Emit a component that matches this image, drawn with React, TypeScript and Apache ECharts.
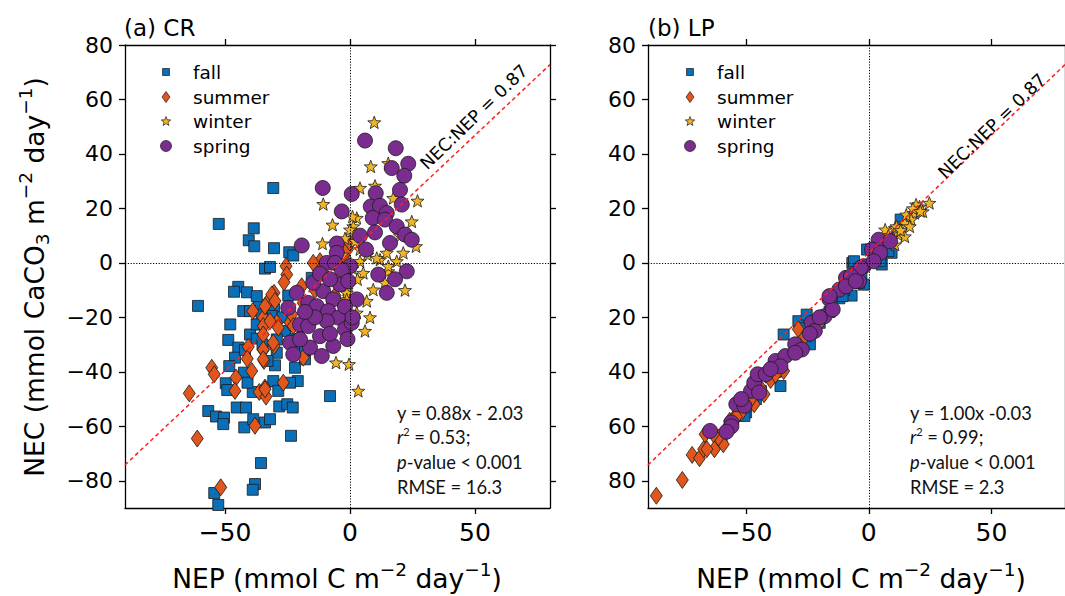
import React, { useEffect, useRef } from "react";
import * as echarts from "echarts";

// ---------------- data ----------------
const seasons = ["fall", "summer", "winter", "spring"];
const panelTitles = ["(a) CR", "(b) LP"];
const xTicks = [-50, 0, 50];
const yTicks = [-80, -60, -40, -20, 0, 20, 40, 60, 80];
const axisMin = -90;
const axisMax = 80;
const ratioLabel = "NEC:NEP = 0.87";
const refLine = [[-90, -74.2], [80, 72.8]];
const fitEquations = ["y = 0.88x - 2.03", "y = 1.00x -0.03"];
const rSquared = ["0.53", "0.99"];
const pValues = ["0.001", "0.001"];
const rmseValues = ["16.3", "2.3"];

const crFall = [
  [-30.7, 27.5], [-52.5, 14.3], [-38.5, 12.7], [-40.5, 8.3], [-38.3, 6.1], [-30.4, 5.4], [-24.3, 3.9], [-22.7, 2.7],
  [-34, -2.1], [-32, -1.5], [-44.7, -8.8], [-46.4, -10.6], [-41.2, -10.8], [-60.8, -15.8], [-42.7, -17.7], [-36.4, -15.6],
  [-30.4, -17.1], [-24.7, -12], [-47.9, -22.6], [-36, -22.6], [-31.3, -19.5], [-48.7, -28.3], [-44.7, -31.1], [-40, -26.3],
  [-37.3, -27.8], [-46, -34.8], [-48.3, -37.9], [-42.4, -40.3], [-49.7, -44.2], [-49.1, -46.7], [-30, -37.6], [-22, -38.5],
  [-20.9, -43.4], [-29.3, -33], [-38.9, -47.4], [-30.7, -43.4], [-28.7, -47], [-56.7, -54.4], [-53.6, -56.4], [-50.4, -56.8],
  [-50.7, -59.2], [-45.3, -53.1], [-41.6, -53.1], [-42.3, -60.4], [-38.7, -57.4], [-34, -58.6], [-32, -57.4], [-28.3, -52.7],
  [-25.1, -51.9], [-22.9, -53.1], [-23.6, -63.5], [-35.6, -73.5], [-38, -81.2], [-38.9, -83.3], [-54.3, -84.5], [-52.7, -88.9],
  [-37.3, -12.2], [-35.3, -19], [-8, -48.9], [-18, -35.4], [-26, -25], [-22, -28], [-20, -30], [-18, -32], [-27, -20],
  [-42, -32], [-35, -30], [-33, -36], [-24, -44], [-41, -44], [-15.3, -5.5], [-40, -17.7], [-37.3, -22.6], [-29.3, -28.1],
];
const crSummer = [
  [-25.6, -1.2], [-25.3, -4.3], [-26.4, -7.1], [-30.4, -11], [-32.4, -13.7], [-38.9, -17.7], [-34.7, -20.1], [-29.3, -22],
  [-34.7, -23.2], [-28.7, -23.8], [-40.7, -30.8], [-41.1, -35.2], [-34.7, -32], [-34.4, -36], [-30.4, -30.5], [-39.3, -39.7],
  [-45.6, -42.1], [-46, -47], [-55.3, -38.5], [-54.3, -40.9], [-64.3, -47.9], [-61.1, -64.5], [-51.7, -82.4], [-36.3, -47.4],
  [-34, -45.8], [-33.6, -49.1], [-26.7, -44], [-38, -59.8], [-24, -21.9], [-18.7, -34.8], [-12, 0.6], [-31.3, -11.6],
  [-30, -14], [-34, -15.9], [-32, -21.4], [-34.7, -26.3], [-30.7, -29.3], [-34.7, -31.8], [-34.7, -35.4], [-34, -46.4],
  [-19.3, -8.6], [-18.7, -14.7], [-23.3, -18.9], [-22.7, -23.2], [-8.7, -6.1], [-20, -27], [-16, -20], [-14, -10],
  [-4, -2], [-2, 2], [-1, 5], [-6, -12], [-14.7, 0], [0, 7.4],
];
const crWinter = [
  [9.7, 51.6], [8.3, 35.4], [15.3, 36.6], [4, 27.5], [10, 28.3], [-10.7, 21.6], [-7, 14], [27, 22.8], [24.7, 15.2],
  [17.3, 23.8], [2.7, 16.5], [1.3, 13.4], [0, 12.2], [-11, 7.1], [26.4, 6.1], [9.3, -9.8], [-1.3, -9.8], [5.3, -3.7],
  [12, 1.2], [6.7, -14], [-1.3, -11], [2.7, -18.3], [-5.6, -36.6], [-0.4, -37.2], [3.3, -47], [10.7, 1.8], [14.7, 3.7],
  [15.3, -3.1], [14, -7.3], [18.7, 0.6], [21.3, 3.7], [-1.3, -13.4], [-0.7, -7.9], [4, 0.6], [15.3, -1.2], [2, 8],
  [4, 5], [-3, 3], [1, -2], [7, 3], [3, -6], [20, 10], [13, 18], [-2, 9], [8, -20], [6, -25], [-4, -5], [1, 17], [22, -10],
];
const crSpring = [
  [6, 44.9], [18.3, 42.1], [23.3, 36.4], [16.7, 34.8], [21.7, 32], [-10.9, 27.5], [0.7, 25.3], [20, 26.8], [10.3, 25.6],
  [-3.3, 18.9], [8.3, 20.7], [12, 21], [14.7, 18.3], [20.7, 21.4], [9.1, 16.5], [14, 15.9], [18.7, 13.4], [10, 11.2],
  [22, 10.4], [24.7, 8.5], [4, 10], [16, 7.3], [-5.3, 7.1], [-19.3, 6.4], [6.4, 4.9], [-5.3, 3.7], [-9.3, 0], [-6, 0],
  [0, -1.2], [11.3, -4.3], [22.7, -3.1], [14.7, -11], [2.7, -13.4], [-4, -7.9], [-21.3, -11], [-16.7, -14.7], [-10.7, -10.4],
  [-6.7, -13.4], [-24.7, -16.5], [-13.3, -15.9], [-8.7, -17.7], [-4.7, -20.1], [-20, -22.6], [-16.7, -23.2], [-9.3, -21.4],
  [-2, -24.4], [0.7, -22], [-12, -26.9], [-6.7, -30.5], [-24, -29.3], [-22.7, -33.6], [-16, -31.1], [-11.3, -34.2],
  [-20, -28.1], [-3.3, -2.5], [-0.7, -6.7], [-14.7, -7.3], [-12, -4], [-8, -6], [-2, -16], [-14, -20], [-18, -18],
  [-8, -26], [1, -20], [-1, -28], [18, -6],
];
const lpFall = [
  [-6.7, 0], [-28.7, -21.4], [-34.7, -26.3], [-36, -45.2], [-24, -29.9], [-7, -12], [-50, -54.9], [-6, 0.6], [0.7, 4.9],
  [5.3, -0.6], [9.3, 3.7], [13, 15.9], [8, 4.3], [-0.7, 4.9], [4.7, 0.6], [-20, -22], [-16, -18], [-12, -13], [-10, -10],
  [-3, -4], [-40, -42], [-44, -47], [-30, -32], [-56, -59], [-60, -64], [-2, -8], [2, 2], [-26, -24], [-38, -40],
  [-46, -50], [-52, -55], [-25.3, -19], [-10.7, -12.2], [-4, -7.3], [-50.7, -56.2],
];
const lpSummer = [
  [-86.6, -85.5], [-76, -79.7], [-72, -70.5], [-69, -71.7], [-67.3, -68.4], [-66.7, -62.9], [-62.9, -68.4], [-59.3, -66.6],
  [-61.3, -64.1], [-56.7, -58], [-50.7, -53.1], [-46.7, -51.9], [-42.7, -48.2], [-34.7, -39.7], [-28.7, -24.4], [-63.3, -62.9],
  [-66, -68.4], [-55, -57], [-52, -55], [-48, -50], [-44, -46], [-40, -43], [-38, -41], [-30, -32], [-26, -27], [-24, -26],
  [-20, -22], [-15, -17], [-58, -61], [-54, -56.5],
];
const lpWinter = [
  [24.7, 22], [20.7, 20.7], [22, 18.9], [18.7, 18.3], [17.3, 15.9], [14.7, 14.6], [10.7, 12.8], [6.7, 12.2], [16.7, 13.4],
  [12, 10.4], [9.3, 9.2], [15.3, 17.7], [19.3, 21.4], [11.3, 13.4], [14.7, 9.7], [10.7, 6.7], [18, 20], [13, 12], [8, 10],
  [21, 19],
];
const lpSpring = [
  [-64.7, -61.7], [-56, -58.6], [-54, -51.9], [-50.7, -52.5], [-48, -47], [-46.7, -44], [-44.7, -47.6], [-45.3, -40.9],
  [-42, -40.9], [-38, -36], [-34, -34.2], [-30, -29.9], [-27.3, -31.8], [-23.3, -22], [-22, -25], [-18, -19.6], [-16, -13.4],
  [-12, -9.8], [-9.3, -5.5], [-4, -6.7], [-14.7, -17.1], [-2, -1.2], [4, 8.5], [8.7, 7.9], [1.3, 4.9], [4.7, 3.7], [2, 0.6],
  [-3.3, -1.8], [-7.3, -4.9], [-9.3, -8.6], [-16, -12.2], [-5.3, -6.7], [-56, -60], [-58, -62], [-20, -20], [-24, -26],
  [-36, -38], [-40, -39], [-52, -50], [-30, -33],
];

const panelData = [
  { fall: crFall, summer: crSummer, winter: crWinter, spring: crSpring },
  { fall: lpFall, summer: lpSummer, winter: lpWinter, spring: lpSpring },
];

// ---------------- styling ----------------
const FONT = "'DejaVu Sans', sans-serif";
const STAT_FONT = "Lato, 'Open Sans', sans-serif";

function starPts(cx: number, cy: number, R: number, r: number) {
  const pts: number[][] = [];
  for (let i = 0; i < 10; i++) {
    const a = -Math.PI / 2 + (i * Math.PI) / 5;
    const rad = i % 2 === 0 ? R : r;
    pts.push([cx + rad * Math.cos(a), cy + rad * Math.sin(a)]);
  }
  return pts;
}
const starSymbol =
  "path://" +
  starPts(10, 10, 10, 4.2)
    .map((p, i) => (i === 0 ? "M" : "L") + p[0].toFixed(2) + " " + p[1].toFixed(2))
    .join(" ") +
  " Z";

const seasonStyle: Record<string, any> = {
  fall: { symbol: "rect", size: 11, color: "#0b6fb8" },
  summer: { symbol: "diamond", size: [12, 17], color: "#e0561c" },
  winter: { symbol: starSymbol, size: [13, 12.5], color: "#f2b424" },
  spring: { symbol: "circle", size: 15, color: "#7b2d8f" },
};

const grids = [
  { left: 125, top: 45, right: 515, bottom: 88 },
  { left: 648, top: 45, right: -8, bottom: 88 },
];

const signed = (v: number) => (v < 0 ? "\u2212" + Math.abs(v) : String(v));

function makeX(gi: number, position: string, showLabel: boolean) {
  return {
    type: "value",
    gridIndex: gi,
    position,
    min: axisMin,
    max: axisMax,
    axisLine: { show: true, onZero: false, lineStyle: { color: "#000", width: 1.3 } },
    axisTick: { show: true, inside: false, length: 6, customValues: xTicks, lineStyle: { color: "#000", width: 1.3 } },
    axisLabel: {
      show: showLabel,
      customValues: xTicks,
      margin: 12,
      fontSize: 25,
      fontFamily: FONT,
      color: "#000",
      formatter: (v: number) => signed(v),
    },
    splitLine: { show: false },
  };
}
function makeY(gi: number, position: string, showLabel: boolean, absLabels: boolean) {
  return {
    type: "value",
    gridIndex: gi,
    position,
    min: axisMin,
    max: axisMax,
    axisLine: { show: true, onZero: false, lineStyle: { color: "#000", width: 1.3 } },
    axisTick: { show: true, inside: false, length: 6, customValues: yTicks, lineStyle: { color: "#000", width: 1.3 } },
    axisLabel: {
      show: showLabel,
      customValues: yTicks,
      margin: 12,
      fontSize: 22,
      fontFamily: FONT,
      color: "#000",
      formatter: (v: number) => (absLabels ? String(Math.abs(v)) : signed(v)),
    },
    splitLine: { show: false },
  };
}

function buildOption() {
  const series: any[] = [];
  panelData.forEach((pd: any, pi) => {
    seasons.forEach((s) => {
      const st = seasonStyle[s];
      series.push({
        type: "scatter",
        name: s,
        xAxisIndex: pi,
        yAxisIndex: pi,
        data: pd[s],
        symbol: st.symbol,
        symbolSize: st.size,
        itemStyle: { color: st.color, borderColor: "#1a1a1a", borderWidth: 0.8, opacity: 1 },
        z: 3,
      });
    });
    series.push({
      type: "line",
      name: "ratio",
      xAxisIndex: pi,
      yAxisIndex: pi,
      data: refLine,
      symbol: "none",
      silent: true,
      z: 6,
      lineStyle: { color: "#ff1f1f", width: 1.5, type: [4, 3] },
      markLine: {
        silent: true,
        symbol: ["none", "none"],
        label: { show: false },
        lineStyle: { color: "#000", width: 1, type: [1.2, 1.6] },
        data: [{ xAxis: 0 }, { yAxis: 0 }],
      },
    });
  });

  const graphic: any[] = [];
  const legendMarkX = [166, 690];
  const legendTextX = [193, 717];
  const legendRowY = [72, 97, 121, 146];
  const titleX = [124, 648];
  const ratioPos = [[474, 117], [992, 126]];
  const statX = [397, 910];
  const statY = [413, 437, 462, 487];
  const xTitleX = [337, 861];

  for (let pi = 0; pi < 2; pi++) {
    graphic.push({
      type: "text",
      x: titleX[pi],
      y: 28,
      style: { text: panelTitles[pi], fontSize: 23, fontFamily: FONT, fill: "#000", align: "left", verticalAlign: "middle" },
    });
    // legend
    seasons.forEach((s, i) => {
      const cx = legendMarkX[pi];
      const cy = legendRowY[i];
      const st = { fill: seasonStyle[s].color, stroke: "#1a1a1a", lineWidth: 0.7 };
      if (s === "fall") graphic.push({ type: "rect", shape: { x: cx - 3.5, y: cy - 3.5, width: 7, height: 7 }, style: st });
      if (s === "summer")
        graphic.push({ type: "polygon", shape: { points: [[cx, cy - 5.5], [cx + 4, cy], [cx, cy + 5.5], [cx - 4, cy]] }, style: st });
      if (s === "winter") graphic.push({ type: "polygon", shape: { points: starPts(cx, cy + 0.5, 5, 2.1) }, style: st });
      if (s === "spring") graphic.push({ type: "circle", shape: { cx, cy, r: 5.5 }, style: st });
      graphic.push({
        type: "text",
        x: legendTextX[pi],
        y: cy,
        style: { text: s, fontSize: 18.5, fontFamily: FONT, fill: "#000", align: "left", verticalAlign: "middle" },
      });
    });
    // ratio label
    graphic.push({
      type: "text",
      x: ratioPos[pi][0],
      y: ratioPos[pi][1],
      rotation: (44 * Math.PI) / 180,
      style: { text: ratioLabel, fontSize: 17.5, fontFamily: FONT, fill: "#000", align: "center", verticalAlign: "middle" },
      z: 10,
    });
    // stats
    const statRich = {
      n: { fontSize: 18.3, fontFamily: STAT_FONT, fill: "#111", lineHeight: 23 },
      i: { fontSize: 18.3, fontFamily: STAT_FONT, fontStyle: "italic", fill: "#111", lineHeight: 23 },
      s: { fontSize: 11, fontFamily: STAT_FONT, fill: "#111", lineHeight: 13, verticalAlign: "top" },
    };
    const lines = [
      "{n|" + fitEquations[pi] + "}",
      "{i|r}{s|2}{n| = " + rSquared[pi] + ";}",
      "{i|p}{n|-value < " + pValues[pi] + "}",
      "{n|RMSE = " + rmseValues[pi] + "}",
    ];
    lines.forEach((t, li) => {
      graphic.push({
        type: "text",
        x: statX[pi],
        y: statY[li],
        style: { text: t, rich: statRich, align: "left", verticalAlign: "middle" },
      });
    });
    // x axis title
    graphic.push({
      type: "text",
      x: xTitleX[pi],
      y: 578,
      style: {
        text: "{n|NEP (mmol C m}{s|\u22122}{n| day}{s|\u22121}{n|)}",
        align: "center",
        verticalAlign: "middle",
        rich: {
          n: { fontSize: 26.5, fontFamily: FONT, fill: "#000", lineHeight: 36 },
          s: { fontSize: 18.5, fontFamily: FONT, fill: "#000", lineHeight: 24, verticalAlign: "top" },
        },
      },
    });
  }
  // y axis title
  graphic.push({
    type: "text",
    x: 34,
    y: 277,
    rotation: Math.PI / 2,
    style: {
      text: "{n|NEC (mmol CaCO}{b|3}{n| m}{s|\u22122}{n| day}{s|\u22121}{n|)}",
      align: "center",
      verticalAlign: "middle",
      rich: {
        n: { fontSize: 26.5, fontFamily: FONT, fill: "#000", lineHeight: 36 },
        s: { fontSize: 18.5, fontFamily: FONT, fill: "#000", lineHeight: 24, verticalAlign: "top" },
        b: { fontSize: 18.5, fontFamily: FONT, fill: "#000", lineHeight: 24, verticalAlign: "bottom" },
      },
    },
  });

  return {
    animation: false,
    backgroundColor: "#fff",
    grid: grids,
    xAxis: [makeX(0, "bottom", true), makeX(1, "bottom", true), makeX(0, "top", false), makeX(1, "top", false)],
    yAxis: [makeY(0, "left", true, false), makeY(1, "left", true, true), makeY(0, "right", false, false), makeY(1, "right", false, true)],
    series,
    graphic,
  };
}

export default function App() {
  const ref = useRef<HTMLDivElement>(null);
  useEffect(() => {
    const chart = echarts.init(ref.current!, null, { renderer: "svg" });
    chart.setOption(buildOption() as any);
    return () => chart.dispose();
  }, []);
  return (
    <div
      ref={ref}
      style={{ position: "fixed", left: 0, top: 0, width: 1065, height: 596, background: "#fff" }}
    />
  );
}
